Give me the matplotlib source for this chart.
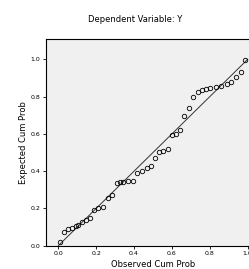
import matplotlib
matplotlib.use("Agg")
import matplotlib.pyplot as plt

observed = [0.009, 0.032, 0.053, 0.070, 0.092, 0.102, 0.123, 0.144, 0.167, 0.190,
            0.211, 0.237, 0.260, 0.281, 0.308, 0.325, 0.343, 0.366, 0.392, 0.418,
            0.443, 0.466, 0.489, 0.510, 0.532, 0.554, 0.577, 0.601, 0.620, 0.645,
            0.664, 0.691, 0.712, 0.738, 0.761, 0.782, 0.803, 0.831, 0.858, 0.891,
            0.914, 0.940, 0.963, 0.984]
expected = [0.021, 0.075, 0.088, 0.093, 0.106, 0.111, 0.129, 0.138, 0.147, 0.190,
            0.200, 0.209, 0.257, 0.272, 0.335, 0.340, 0.343, 0.347, 0.347, 0.392,
            0.402, 0.415, 0.430, 0.472, 0.501, 0.510, 0.517, 0.594, 0.600, 0.621,
            0.696, 0.737, 0.800, 0.826, 0.835, 0.839, 0.844, 0.853, 0.858, 0.866,
            0.877, 0.907, 0.933, 0.996]
ticks = [0.0, 0.2, 0.4, 0.6, 0.8, 1.0]
tick_labels = ["0.0", "0.2", "0.4", "0.6", "0.8", "1.0"]
ref_line = [0.0, 1.0]

fig = plt.figure(figsize=(2.49, 2.69), dpi=100)
fig.patch.set_facecolor("white")
ax = fig.add_axes([46 / 249, (269 - 245.7) / 269, 214 / 249, (245.7 - 39) / 269])
ax.set_facecolor("#f0f0f0")

ax.plot(ref_line, ref_line, color="#333333", linewidth=0.7, zorder=2)
ax.plot(observed, expected, linestyle="none", marker="o", markersize=3.2,
        markerfacecolor="none", markeredgecolor="black", markeredgewidth=0.6, zorder=3)

ax.set_xlim(-0.065, 1.065)
ax.set_ylim(0.0, 1.109)
ax.set_xticks(ticks)
ax.set_xticklabels(tick_labels)
ax.set_yticks(ticks)
ax.set_yticklabels(tick_labels)
ax.tick_params(direction="out", length=2.5, width=0.6, labelsize=4.5, pad=1.5)
for s in ax.spines.values():
    s.set_linewidth(0.8)

ax.set_xlabel("Observed Cum Prob", fontsize=6, labelpad=2.5)
ax.set_ylabel("Expected Cum Prob", fontsize=6, labelpad=2)
fig.text(135 / 249, 1 - 20 / 269, "Dependent Variable: Y", ha="center", va="center", fontsize=6)

fig.savefig("out.png", dpi=100)
